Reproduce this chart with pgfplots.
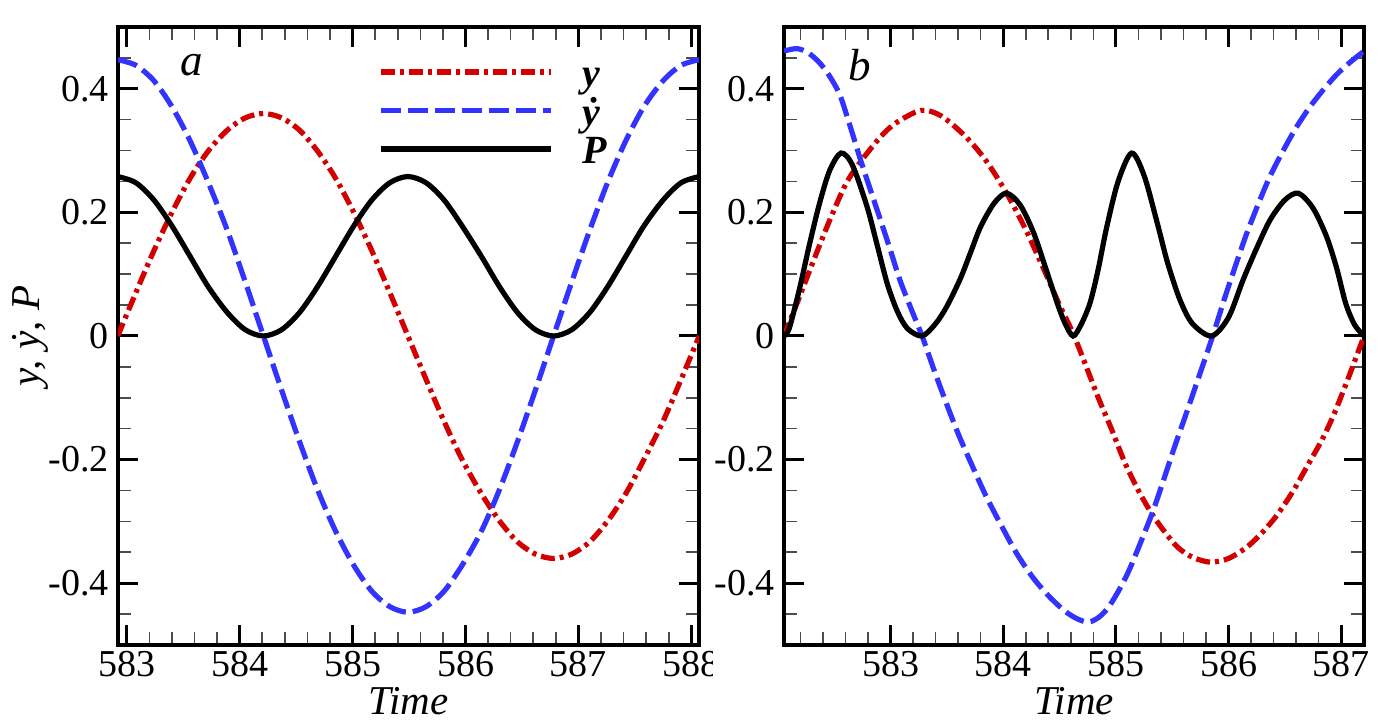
\documentclass[border=0pt]{standalone}
\usepackage{fontspec}
\setmainfont{Liberation Serif}
\usepackage{pgfplots}
\pgfplotsset{compat=1.18}
\definecolor{cred}{RGB}{210,0,0}
\definecolor{cblue}{RGB}{51,51,255}
\newcommand\lstrut{\rule[-5.25pt]{0pt}{19.25pt}}
\pgfplotsset{
  panel/.style={
    scale only axis, height=309pt, ymin=-0.5, ymax=0.5,
    tick align=inside, xtick pos=both, ytick pos=both,
    xticklabel pos=lower, yticklabel pos=left,
    ytick={-0.4,-0.2,0,0.2,0.4}, yticklabels={-0.4,-0.2,0,0.2,0.4},
    minor ytick={-0.45,-0.35,-0.3,-0.25,-0.15,-0.1,-0.05,0.05,0.1,0.15,0.25,0.3,0.35,0.45},
    major tick length=10pt, minor tick length=6.5pt,
    every major tick/.append style={line width=1.5pt, black},
    every minor tick/.append style={line width=0.8pt, black!70},
    axis line style={line width=1.6pt},
    ticklabel style={font=\fontsize{19}{21}\selectfont, inner sep=0pt},
    xticklabel style={anchor=base, yshift=-16pt},
    yticklabel style={anchor=east, xshift=-4.5pt},
    xlabel={\textit{Time}},
    xlabel style={at={(axis description cs:0.5,-0.1117)}, anchor=base, font=\fontsize{20.5}{22}\selectfont},
  },
  ys/.style={cred, line width=2.6pt, dash pattern=on 7pt off 2.5pt on 2pt off 2.5pt, smooth},
  yd/.style={cblue, line width=2.6pt, dash pattern=on 10pt off 3.5pt, smooth},
  pp/.style={black, line width=2.6pt, smooth},
}
\begin{document}
\begin{tikzpicture}
\path[use as bounding box] (0,0) rectangle (691.5pt,360.5pt);
\begin{scope}
\clip (0,0) rectangle (356pt,360.5pt);
\begin{axis}[panel, at={(59pt,38pt)}, anchor=south west, width=290.5pt,
  xmin=582.922, xmax=588.068,
  xtick={583,584,585,586,587,588}, xticklabels={583,584,585,586,587,588},
  minor x tick num=4,
  ylabel={\textit{y, ẏ, P}},
  ylabel style={at={(axis description cs:-0.1343,0.5)}, anchor=base, font=\fontsize{20.5}{22}\selectfont},
  legend style={at={(axis description cs:0.449,0.9547)}, anchor=north west, draw=none, fill=none,
    inner sep=0pt, outer sep=0pt, row sep=0pt, column sep=14pt,
    font=\fontsize{20}{22}\selectfont\bfseries\itshape,
    nodes={inner sep=0pt}},
  legend cell align=left,
  legend image code/.code={\path[draw=none, fill=none] (0pt,-9.625pt) rectangle (85pt,9.625pt);
    \draw[#1] (0pt,1.125pt) -- (85pt,1.125pt);},
]
\addplot[ys] coordinates {(582.92,0) (583.08,0.070) (583.24,0.138) (583.40,0.200) (583.56,0.255) (583.72,0.299) (583.89,0.333) (584.05,0.353) (584.21,0.360) (584.37,0.353) (584.53,0.333) (584.69,0.299) (584.85,0.255) (585.01,0.200) (585.17,0.138) (585.33,0.070) (585.49,0) (585.65,-0.070) (585.81,-0.138) (585.97,-0.200) (586.14,-0.255) (586.30,-0.299) (586.46,-0.333) (586.62,-0.353) (586.78,-0.360) (586.94,-0.353) (587.10,-0.333) (587.26,-0.299) (587.42,-0.255) (587.58,-0.200) (587.75,-0.138) (587.91,-0.070) (588.07,0)};
\addlegendentry{\lstrut\smash{y}}
\addplot[yd] coordinates {(582.92,0.447) (583.08,0.438) (583.24,0.413) (583.40,0.371) (583.56,0.316) (583.72,0.249) (583.89,0.171) (584.05,0.087) (584.21,0) (584.37,-0.087) (584.53,-0.171) (584.69,-0.249) (584.85,-0.316) (585.01,-0.371) (585.17,-0.413) (585.33,-0.438) (585.49,-0.447) (585.65,-0.438) (585.81,-0.413) (585.97,-0.371) (586.14,-0.316) (586.30,-0.249) (586.46,-0.171) (586.62,-0.087) (586.78,0) (586.94,0.087) (587.10,0.171) (587.26,0.249) (587.42,0.316) (587.58,0.371) (587.75,0.413) (587.91,0.438) (588.07,0.447)};
\addlegendentry{\lstrut\smash{ẏ}}
\addplot[pp] coordinates {(582.92,0.258) (583.08,0.248) (583.24,0.220) (583.40,0.178) (583.56,0.129) (583.72,0.080) (583.89,0.038) (584.05,0.010) (584.21,0) (584.37,0.010) (584.53,0.038) (584.69,0.080) (584.85,0.129) (585.01,0.178) (585.17,0.220) (585.33,0.248) (585.49,0.258) (585.65,0.248) (585.81,0.220) (585.97,0.178) (586.14,0.129) (586.30,0.080) (586.46,0.038) (586.62,0.010) (586.78,0) (586.94,0.010) (587.10,0.038) (587.26,0.080) (587.42,0.129) (587.58,0.178) (587.75,0.220) (587.91,0.248) (588.07,0.258)};
\addlegendentry{\lstrut\smash{P}}
\node[anchor=base, font=\fontsize{22.5}{24}\selectfont\itshape] at (axis description cs:0.127,0.922) {a};
\end{axis}
\end{scope}
\begin{axis}[panel, at={(392pt,38pt)}, anchor=south west, width=290pt,
  xmin=582.054, xmax=587.203,
  xtick={583,584,585,586,587}, xticklabels={583,584,585,586,587},
  minor xtick={582.2,582.4,582.6,582.8,583.2,583.4,583.6,583.8,584.2,584.4,584.6,584.8,585.2,585.4,585.6,585.8,586.2,586.4,586.6,586.8,587.2},
]
\addplot[ys] coordinates {(582.054,0) (582.18,0.058) (582.31,0.119) (582.45,0.183) (582.60,0.245) (582.73,0.281) (582.91,0.322) (583.05,0.345) (583.27,0.365) (583.45,0.356) (583.67,0.322) (583.85,0.283) (584.03,0.231) (584.20,0.172) (584.38,0.100) (584.50,0.050) (584.63,0) (584.84,-0.098) (584.96,-0.150) (585.08,-0.205) (585.20,-0.250) (585.32,-0.288) (585.43,-0.316) (585.55,-0.342) (585.68,-0.358) (585.84,-0.366) (586.00,-0.360) (586.16,-0.342) (586.30,-0.318) (586.43,-0.290) (586.57,-0.252) (586.71,-0.207) (586.83,-0.168) (586.94,-0.125) (587.07,-0.065) (587.203,0)};
\addplot[yd] coordinates {(582.054,0.461) (582.17,0.465) (582.27,0.458) (582.37,0.442) (582.46,0.420) (582.55,0.390) (582.64,0.340) (582.73,0.287) (582.82,0.237) (582.91,0.188) (583.00,0.138) (583.08,0.092) (583.18,0.045) (583.28,0) (583.38,-0.052) (583.485,-0.104) (583.60,-0.158) (583.72,-0.208) (583.85,-0.260) (583.99,-0.309) (584.12,-0.352) (584.26,-0.390) (584.40,-0.420) (584.54,-0.444) (584.65,-0.457) (584.756,-0.463) (584.85,-0.455) (584.93,-0.440) (585.01,-0.417) (585.10,-0.386) (585.18,-0.352) (585.32,-0.288) (585.42,-0.235) (585.52,-0.180) (585.62,-0.128) (585.72,-0.075) (585.86,0) (585.96,0.058) (586.07,0.118) (586.16,0.165) (586.25,0.207) (586.36,0.255) (586.48,0.298) (586.60,0.337) (586.72,0.370) (586.84,0.398) (586.96,0.423) (587.08,0.443) (587.203,0.461)};
\addplot[pp] coordinates {(582.054,0) (582.10,0.012) (582.19,0.075) (582.28,0.148) (582.37,0.215) (582.46,0.268) (582.56,0.296) (582.66,0.277) (582.79,0.210) (582.88,0.148) (582.97,0.085) (583.06,0.040) (583.15,0.012) (583.28,0) (583.40,0.020) (583.50,0.048) (583.62,0.093) (583.71,0.135) (583.80,0.177) (583.92,0.215) (584.03,0.231) (584.15,0.212) (584.27,0.167) (584.38,0.108) (584.48,0.053) (584.55,0.020) (584.62,0) (584.69,0.018) (584.77,0.053) (584.84,0.105) (584.92,0.177) (585.02,0.250) (585.14,0.296) (585.25,0.260) (585.36,0.188) (585.46,0.118) (585.57,0.058) (585.68,0.020) (585.85,0) (586.00,0.030) (586.13,0.091) (586.25,0.142) (586.37,0.188) (586.50,0.220) (586.62,0.231) (586.75,0.207) (586.87,0.161) (586.96,0.110) (587.04,0.053) (587.12,0.018) (587.203,0)};
\node[anchor=base, font=\fontsize{22.5}{24}\selectfont\itshape] at (axis description cs:0.131,0.914) {b};
\end{axis}
\end{tikzpicture}
\end{document}
